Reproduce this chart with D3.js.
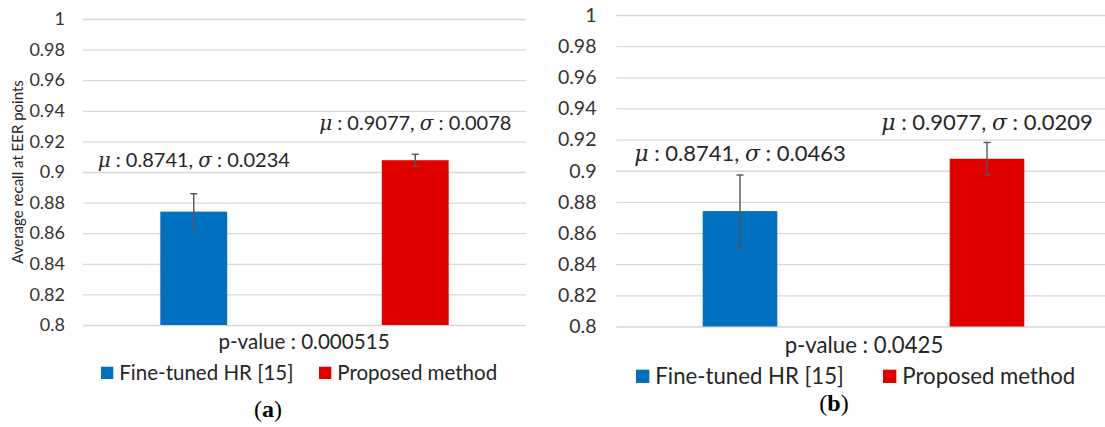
<!DOCTYPE html>
<html>
<head>
<meta charset="utf-8">
<script src="https://cdn.jsdelivr.net/npm/d3@7"></script>
<style>
  body { margin: 0; background: #fff; }
  svg { display: block; }
  text { font-family: Lato, "Open Sans", sans-serif; fill: #262626; }
  .grid line { stroke: #d9d9d9; stroke-width: 1.3; }
  .grid path { display: none; }
  .tick text { fill: #333; }
  .caption { font-family: "Liberation Serif", serif; fill: #000; }
</style>
</head>
<body>
<div id="chart"></div>
<script>
// categories and values
var methods = ["Fine-tuned HR [15]", "Proposed method"];
var barColors = ["#0070c0", "#e00000"];

var meansA = [0.8741, 0.9077];
var sigmaA = [0.0234, 0.0078];
var meansB = [0.8741, 0.9077];
var sigmaB = [0.0463, 0.0209];

var pValues = ["0.000515", "0.0425"];
var panelNames = ["a", "b"];

// annotation anchors (in data units) for the mu/sigma labels
var labelAtA = [0.9035, 0.9275];
var labelAtB = [0.906, 0.926];

var yTicks = [0.8, 0.82, 0.84, 0.86, 0.88, 0.9, 0.92, 0.94, 0.96, 0.98, 1];
var yTitle = "Average recall at EER points";

var svg = d3.select("#chart").append("svg")
    .attr("width", 1105)
    .attr("height", 427);

// per panel layout
var panels = [
  {name: panelNames[0], means: meansA, sigma: sigmaA, labelAt: labelAtA, p: pValues[0],
   x0: 83, x1: 526, top: 19, bottom: 325, tickFont: 18, labFont: 20, legFont: 20.5, pFont: 20.6,
   pX: 304, pY: 349, legY: 380, capX: 268, capY: 417, legX: [101, 319], title: true},
  {name: panelNames[1], means: meansB, sigma: sigmaB, labelAt: labelAtB, p: pValues[1],
   x0: 616.5, x1: 1110.5, top: 15, bottom: 326.5, tickFont: 19.5, labFont: 22, legFont: 22.2, pFont: 22.2,
   pX: 864, pY: 353, legY: 384, capX: 834, capY: 411, legX: [636, 883], title: false}
];

panels.forEach(function(p) {

    var x = d3.scaleBand().domain(methods).range([p.x0, p.x1]).padding(0);
    var y = d3.scaleLinear().domain([0.8, 1]).range([p.bottom, p.top]);
    var barW = x.bandwidth() * 0.302;

    var g = svg.append("g");

    // gridlines + tick labels
    g.append("g")
        .attr("class", "grid")
        .attr("transform", "translate(" + p.x0 + ",0)")
        .call(d3.axisLeft(y)
            .tickValues(yTicks)
            .tickSize(-(p.x1 - p.x0))
            .tickPadding(p.x0 > 500 ? 20 : 18)
            .tickFormat(d3.format("")))
        .selectAll("text")
        .style("font-size", p.tickFont + "px")
        .style("font-family", "Lato, sans-serif");

    var data = methods.map(function(m, i) {
        return {name: m, mean: p.means[i], sd: p.sigma[i], at: p.labelAt[i], color: barColors[i]};
    });

    // bars
    g.selectAll(".bar")
        .data(data)
      .enter().append("rect")
        .attr("class", "bar")
        .attr("x", function(d) { return x(d.name) + x.bandwidth() / 2 - barW / 2; })
        .attr("y", function(d) { return y(d.mean); })
        .attr("width", barW)
        .attr("height", function(d) { return y(0.8) - y(d.mean); })
        .attr("fill", function(d) { return d.color; });

    // error bars (half sigma each side)
    var err = g.selectAll(".err")
        .data(data)
      .enter().append("g")
        .attr("class", "err")
        .attr("stroke", "#555")
        .attr("stroke-width", 1.4);
    err.append("line")
        .attr("x1", function(d) { return x(d.name) + x.bandwidth() / 2; })
        .attr("x2", function(d) { return x(d.name) + x.bandwidth() / 2; })
        .attr("y1", function(d) { return y(d.mean + d.sd / 2); })
        .attr("y2", function(d) { return y(d.mean - d.sd / 2); });
    [1, -1].forEach(function(s) {
        err.append("line")
            .attr("x1", function(d) { return x(d.name) + x.bandwidth() / 2 - 3.5; })
            .attr("x2", function(d) { return x(d.name) + x.bandwidth() / 2 + 3.5; })
            .attr("y1", function(d) { return y(d.mean + s * d.sd / 2); })
            .attr("y2", function(d) { return y(d.mean + s * d.sd / 2); });
    });

    // mu / sigma labels
    var lab = g.selectAll(".lab")
        .data(data)
      .enter().append("text")
        .attr("class", "lab")
        .attr("x", function(d) { return x(d.name) + x.bandwidth() / 2; })
        .attr("y", function(d) { return y(d.at); })
        .attr("text-anchor", "middle")
        .style("font-size", p.labFont + "px");
    lab.append("tspan").style("font-style", "italic").style("font-family", "DejaVu Serif, serif").text("\u03bc");
    lab.append("tspan").text(function(d) { return " : " + d.mean.toFixed(4) + ", "; });
    lab.append("tspan").style("font-style", "italic").style("font-family", "DejaVu Serif, serif").text("\u03c3");
    lab.append("tspan").text(function(d) { return " : " + d.sd.toFixed(4); });

    // p-value
    g.append("text")
        .attr("x", p.pX)
        .attr("y", p.pY)
        .attr("text-anchor", "middle")
        .style("font-size", p.pFont + "px")
        .text("p-value : " + p.p);

    // legend
    var sq = p.legFont * 0.6;
    var leg = g.selectAll(".leg")
        .data(data)
      .enter().append("g")
        .attr("transform", function(d, i) { return "translate(" + p.legX[i] + "," + p.legY + ")"; });
    leg.append("rect")
        .attr("y", -sq - 1)
        .attr("width", sq)
        .attr("height", sq)
        .attr("fill", function(d) { return d.color; });
    leg.append("text")
        .attr("x", sq + 6)
        .style("font-size", p.legFont + "px")
        .text(function(d) { return d.name; });

    // caption
    var cap = g.append("text")
        .attr("class", "caption")
        .attr("x", p.capX)
        .attr("y", p.capY)
        .attr("text-anchor", "middle")
        .style("font-size", "24px");
    cap.append("tspan").text("(");
    cap.append("tspan").style("font-weight", "bold").text(p.name);
    cap.append("tspan").text(")");

    if (p.title) {
        g.append("text")
            .attr("transform", "translate(23," + ((p.top + p.bottom) / 2) + ") rotate(-90)")
            .attr("text-anchor", "middle")
            .style("font-size", "15px")
            .text(yTitle);
    }
});
</script>
</body>
</html>
